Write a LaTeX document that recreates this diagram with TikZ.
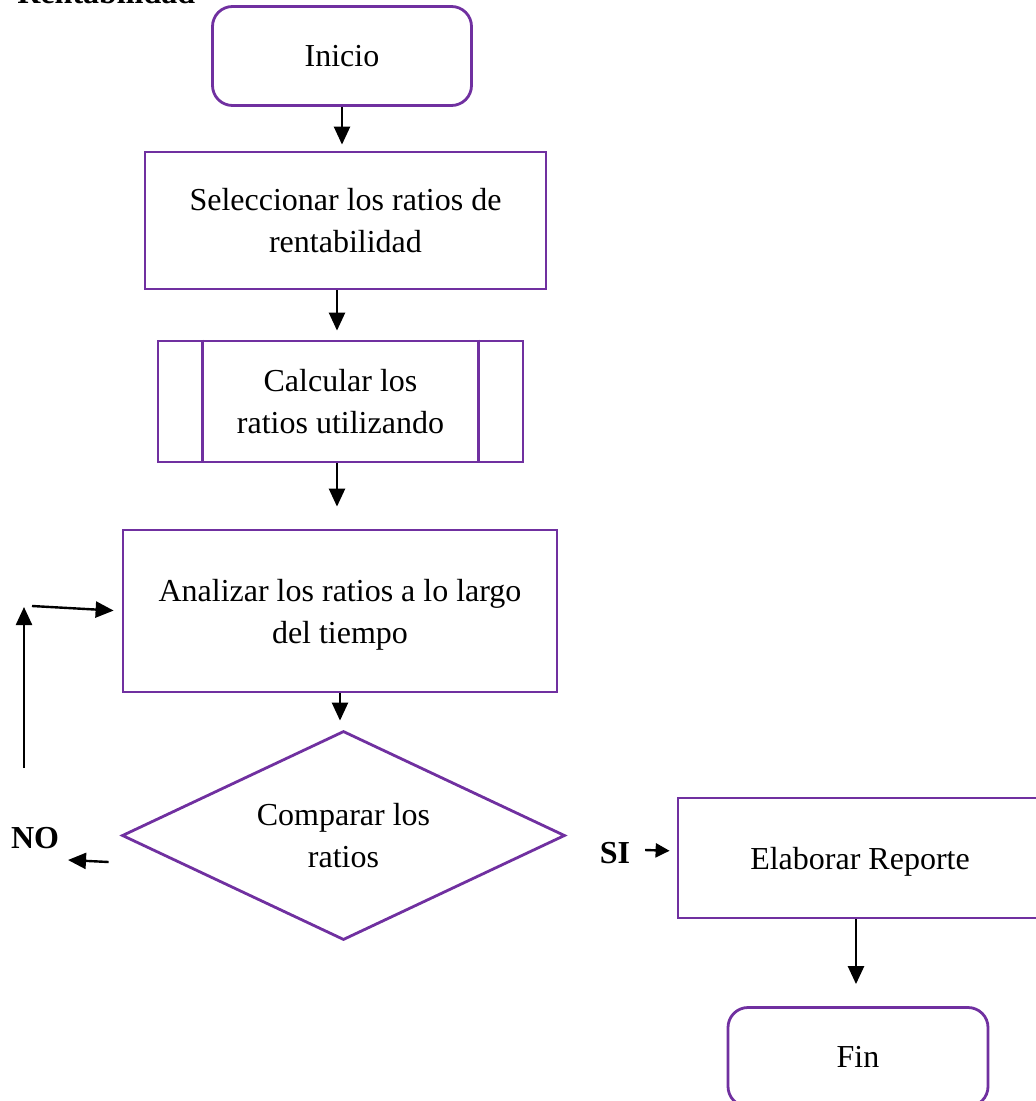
\documentclass[tikz,border=0pt]{standalone}
\usepackage{fontspec}
\setmainfont{Liberation Serif}
\usetikzlibrary{shapes.geometric,arrows.meta}

\definecolor{boxpurple}{HTML}{7030A0}

\begin{document}
\begin{tikzpicture}
[
	x=0.5pt, y=-0.5pt,
% Text style
	every node/.style={
		font=\fontsize{16}{21}\selectfont,
		align=center},
% Start and end style
	terminal/.style={
		draw=boxpurple,
		line width=1.4pt,
		rounded corners=10pt,
		minimum width=129.5pt,
		minimum height=49.5pt},
% Process style
	process/.style={
		draw=boxpurple,
		line width=1.4pt,
		inner sep=0pt},
% Decision style
	decision/.style={
		diamond,
		draw=boxpurple,
		line width=1.4pt,
		inner sep=0pt,
		minimum width=221.5pt,
		minimum height=104.5pt},
% Answer label style
	answer/.style={
		font=\fontsize{16}{21}\selectfont\bfseries},
% Arrow style
	flow/.style={
		line width=1.2pt,
		-{Triangle[length=9pt,width=8pt]}},
]

\useasboundingbox (0,0) rectangle (1035,1101);

% Title (cut at the top)
\node[answer, anchor=base west, inner sep=0pt] (title) at (17,4) {Rentabilidad};

% Boxes
\node[terminal, text depth=-6pt] (ini) at (342,56) {Inicio};

\node[process,
	minimum width=200.5pt,
	minimum height=68.5pt] (sel) at (345.5,220.5)
	{Seleccionar los ratios de\\rentabilidad};

\node[process,
	minimum width=182.5pt,
	minimum height=60.5pt] (calc) at (340.5,401.5)
	{Calcular los\\ratios utilizando};
\draw[boxpurple, line width=1.4pt]
	([xshift=23pt]calc.north west) -- ([xshift=23pt]calc.south west)
	([xshift=-23pt]calc.north east) -- ([xshift=-23pt]calc.south east);

\node[process,
	minimum width=217pt,
	minimum height=81pt,
	text depth=-4pt] (anal) at (340,611)
	{Analizar los ratios a lo largo\\del tiempo};

\node[decision,
	label={center:Comparar los\\ratios}] (comp) at (343.5,835.5) {};

\node[process,
	minimum width=182pt,
	minimum height=60pt,
	text depth=-11pt] (elab) at (860,858)
	{Elaborar Reporte};

\node[terminal, minimum width=130pt] (fin) at (858,1057) {Fin};

% Answers
\node[answer] (no) at (35,838) {NO};
\node[answer] (si) at (615,853) {SI};

% Free ends of the NO loop
\coordinate (noend) at (68,860);
\coordinate (loopbot) at (24,768);
\coordinate (looptop) at (24,607);
\coordinate (loopstart) at (32,606);

% Main flow
\draw[flow, shorten >=3pt] (ini.south) -- (ini.south |- sel.north);
\draw[flow, shorten >=4.5pt] ([xshift=-4.25pt]sel.south)
	-- ([xshift=-4.25pt]sel.south |- calc.north);
\draw[flow, shorten >=11pt] ([xshift=-1.75pt]calc.south)
	-- ([xshift=-1.75pt]calc.south |- anal.north);
\draw[flow, shorten >=4.5pt] (anal.south) -- (anal.south |- comp.north);
\draw[flow, shorten >=11pt] ([xshift=-2pt]elab.south)
	-- ([xshift=-2pt]elab.south |- fin.north);

% NO branch
\draw[flow] ([xshift=-6pt,yshift=-13.25pt]comp.west) -- (noend);
\draw[flow] (loopbot) -- (looptop);
\draw[flow, shorten >=4pt] (loopstart) -- (anal.west);

% SI branch
\draw[flow, -{Triangle[length=7pt,width=7pt]}, shorten >=3.5pt]
	([xshift=4pt,yshift=1.5pt]si.east) -- ([yshift=3.5pt]elab.west);

\end{tikzpicture}
\end{document}
